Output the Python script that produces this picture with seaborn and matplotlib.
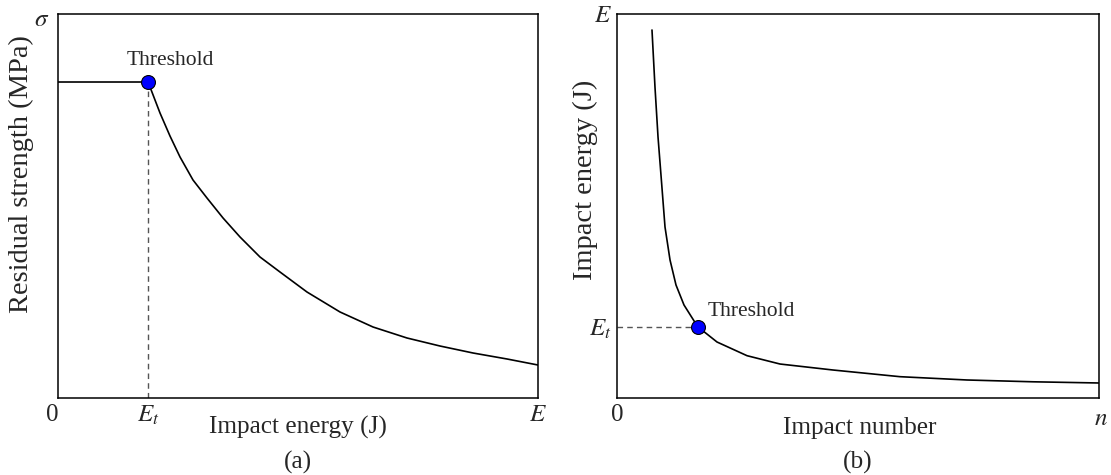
import matplotlib
matplotlib.use("Agg")
import matplotlib.pyplot as plt
from matplotlib.transforms import ScaledTranslation
import seaborn as sns
import pandas as pd

# ---- data (arbitrary units 0..10) ----
a_x = [0.0, 1.875, 1.917, 2.021, 2.125, 2.333, 2.542, 2.8125, 3.104, 3.438, 3.792,
       4.208, 4.625, 5.1875, 5.875, 6.5625, 7.271, 7.958, 8.646, 9.354, 10.0]
a_y = [8.229, 8.229, 8.099, 7.760, 7.422, 6.823, 6.276, 5.677, 5.208, 4.688, 4.193,
       3.672, 3.281, 2.760, 2.240, 1.849, 1.5625, 1.354, 1.172, 1.016, 0.859]
a_thr = (1.875, 8.229)

b_x = [0.726, 0.788, 0.851, 0.927, 0.996, 1.100, 1.224, 1.390, 1.674, 2.075, 2.697,
       3.382, 4.481, 5.871, 7.261, 8.631, 10.0]
b_y = [9.583, 8.099, 6.797, 5.573, 4.453, 3.594, 2.943, 2.422, 1.857, 1.458, 1.102,
       0.885, 0.729, 0.555, 0.469, 0.422, 0.391]
b_thr = (1.674, 1.857)

a_ticks_x = ["0", r"$E_t$", r"$E$"]
a_ticks_y = [r"$\sigma$"]
b_ticks_x = ["0", r"$n$"]
b_ticks_y = [r"$E_t$", r"$E$"]

sns.set_style("white")
plt.rcParams["font.family"] = ["Liberation Serif", "DejaVu Serif"]
plt.rcParams["mathtext.fontset"] = "stix"

fig = plt.figure(figsize=(11.11, 4.75), dpi=100)
axa = fig.add_axes([58/1111, 77/475, 480/1111, 384/475])
axb = fig.add_axes([617/1111, 77/475, 482/1111, 384/475])

for ax in (axa, axb):
    ax.set_xlim(0, 10)
    ax.set_ylim(0, 10)
    for s in ax.spines.values():
        s.set_visible(True)
        s.set_color("black")
        s.set_linewidth(1.1)
    ax.tick_params(length=0, labelsize=18, pad=4)

def shift(label, dx_px, dy_px=0):
    label.set_transform(label.get_transform() + ScaledTranslation(dx_px/100, dy_px/100, fig.dpi_scale_trans))

# panel (a)
dfa = pd.DataFrame({"x": a_x, "y": a_y})
sns.lineplot(data=dfa, x="x", y="y", ax=axa, color="black", lw=1.2, sort=False, estimator=None)
axa.plot([a_thr[0], a_thr[0]], [0, a_thr[1]], ls=(0, (4, 3)), color="#555555", lw=1.0)
axa.scatter([a_thr[0]], [a_thr[1]], s=100, color="#0000ff", edgecolor="black", linewidth=0.8, zorder=5)
axa.text(2.333, 8.80, "Threshold", ha="center", va="center", fontsize=15.5)
axa.set_xticks([0, a_thr[0], 10])
axa.set_xticklabels(a_ticks_x)
axa.set_yticks([10])
axa.set_yticklabels(a_ticks_y)
shift(axa.get_xticklabels()[0], -6)
shift(axa.get_yticklabels()[0], -3, -4)
axa.set_xlabel("Impact energy (J)", fontsize=18.2)
axa.xaxis.set_label_coords(0.5, -0.078)
axa.xaxis.label.set_va("center")
axa.set_ylabel("Residual strength (MPa)", fontsize=20.5)
axa.yaxis.set_label_coords(-0.077, 0.583)
axa.yaxis.label.set_va("center")
axa.text(0.5, -0.167, "(a)", transform=axa.transAxes, ha="center", va="center", fontsize=18.2)

# panel (b)
dfb = pd.DataFrame({"x": b_x, "y": b_y})
sns.lineplot(data=dfb, x="x", y="y", ax=axb, color="black", lw=1.2, sort=False, estimator=None)
axb.plot([0, b_thr[0]], [b_thr[1], b_thr[1]], ls=(0, (4, 3)), color="#555555", lw=1.0)
axb.scatter([b_thr[0]], [b_thr[1]], s=100, color="#0000ff", edgecolor="black", linewidth=0.8, zorder=5)
axb.text(1.888, 2.24, "Threshold", ha="left", va="center", fontsize=15.5)
axb.set_xticks([0, 10])
axb.set_xticklabels(b_ticks_x)
axb.set_yticks([b_thr[1], 10])
axb.set_yticklabels(b_ticks_y)
shift(axb.get_xticklabels()[1], 2, -4)
axb.set_xlabel("Impact number", fontsize=18.2)
axb.xaxis.set_label_coords(0.504, -0.078)
axb.xaxis.label.set_va("center")
axb.set_ylabel("Impact energy (J)", fontsize=20.5)
axb.yaxis.set_label_coords(-0.066, 0.568)
axb.yaxis.label.set_va("center")
axb.text(0.5, -0.167, "(b)", transform=axb.transAxes, ha="center", va="center", fontsize=18.2)

fig.savefig("out.png", dpi=100)
